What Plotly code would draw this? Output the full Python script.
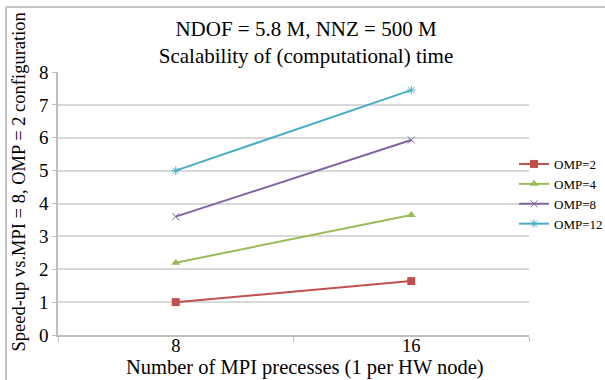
import plotly.graph_objects as go

categories = ["8", "16"]
omp2 = [1.0, 1.64]
omp4 = [2.2, 3.65]
omp8 = [3.6, 5.93]
omp12 = [5.0, 7.45]
series_names = ["OMP=2", "OMP=4", "OMP=8", "OMP=12"]
y_ticks = [0, 1, 2, 3, 4, 5, 6, 7, 8]

FONT = "Liberation Serif, Times New Roman, serif"
W, H = 605, 380
L, R, T, B = 58, 76, 72, 45
pw, ph = W - L - R, H - T - B

def px_x(p):
    return (p - L) / pw

def px_y(p):
    return (H - B - p) / ph

fig = go.Figure()
styles = [
    dict(color="#C0504D", symbol="square", size=8, lw=0),
    dict(color="#9BBB59", symbol="triangle-up", size=8, lw=0),
    dict(color="#8064A2", symbol="x-thin", size=7, lw=1),
    dict(color="#4BACC6", symbol="asterisk", size=7, lw=1),
]
for name, vals, st in zip(series_names, [omp2, omp4, omp8, omp12], styles):
    fig.add_trace(go.Scatter(
        x=categories, y=vals, name=name, mode="lines+markers",
        line=dict(color=st["color"], width=2),
        marker=dict(symbol=st["symbol"], size=st["size"], color=st["color"],
                    line=dict(color=st["color"], width=st["lw"])),
    ))

fig.update_layout(
    width=W, height=H,
    margin=dict(l=L, r=R, t=T, b=B, autoexpand=False),
    paper_bgcolor="white", plot_bgcolor="white",
    font=dict(family=FONT, color="black"),
    title=dict(
        text="NDOF = 5.8 M, NNZ = 500 M<br>Scalability of (computational) time",
        x=306 / W, xanchor="center", xref="container",
        y=1 - 36 / H, yanchor="top", yref="container",
        font=dict(family=FONT, size=21, color="black"),
    ),
    showlegend=True,
    legend=dict(
        x=px_x(514), xanchor="left", y=px_y(149), yanchor="top",
        font=dict(family=FONT, size=13, color="black"),
        itemwidth=30, bgcolor="rgba(0,0,0,0)", borderwidth=0,
        tracegroupgap=0,
    ),
    xaxis=dict(
        type="category", categoryorder="array", categoryarray=categories,
        range=[-0.5, 1.5], tickson="boundaries",
        ticks="outside", ticklen=5, tickcolor="#bfbfbf", tickwidth=1,
        ticklabelstandoff=-7,
        showline=True, linecolor="#bfbfbf", linewidth=1.5,
        showgrid=False, zeroline=False,
        tickfont=dict(family=FONT, size=18.5, color="black"),
    ),
    yaxis=dict(
        range=[0, 8], tickmode="array", tickvals=y_ticks,
        ticktext=[str(v) for v in y_ticks],
        ticks="outside", ticklen=4, tickcolor="#bfbfbf",
        showline=True, linecolor="#bfbfbf", linewidth=1.5,
        showgrid=True, gridcolor="#d9d9d9", gridwidth=1.5,
        zeroline=False,
        tickfont=dict(family=FONT, size=19, color="black"),
    ),
    annotations=[
        dict(text="Number of MPI precesses (1 per HW node)",
             xref="paper", yref="paper", x=px_x(305), y=px_y(367),
             xanchor="center", yanchor="middle", showarrow=False,
             font=dict(family=FONT, size=20.5, color="black")),
        dict(text="Speed-up vs.MPI = 8, OMP = 2 configuration",
             xref="paper", yref="paper", x=px_x(18), y=px_y(182.5),
             xanchor="center", yanchor="middle", showarrow=False, textangle=-90,
             font=dict(family=FONT, size=18.5, color="black")),
    ],
    shapes=[
        dict(type="line", xref="paper", yref="paper",
             x0=px_x(6), x1=px_x(W), y0=px_y(7), y1=px_y(7),
             line=dict(color="#c4c4c4", width=2)),
        dict(type="line", xref="paper", yref="paper",
             x0=px_x(6), x1=px_x(6), y0=px_y(7), y1=px_y(H),
             line=dict(color="#c4c4c4", width=2)),
    ],
)

fig.write_html("out.html")
